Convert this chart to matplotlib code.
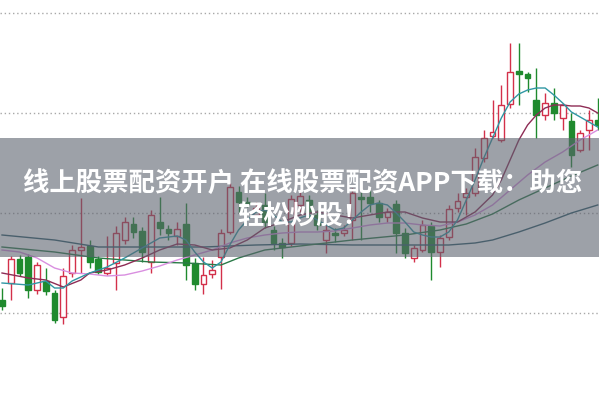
import matplotlib
matplotlib.use("Agg")
import matplotlib.pyplot as plt
from matplotlib.patches import Rectangle
import numpy as np

# ---- data (arbitrary price units) ----
opens = [1.13,1.30,1.54,1.56,1.23,1.32,1.20,0.96,1.40,1.63,1.67,1.54,1.40,1.50,1.73,1.89,1.82,1.51,1.91,1.84,
         1.77,1.89,1.50,1.29,1.39,1.56,1.81,2.21,2.11,1.98,2.08,1.83,1.70,1.70,2.08,2.13,1.98,1.73,1.80,1.80,
         1.93,2.16,2.16,2.10,1.96,2.09,1.80,1.55,1.63,1.87,1.61,1.76,2.05,2.16,2.20,2.55,2.77,2.73,3.09,3.42,
         3.39,3.13,2.98,3.10,2.95,2.92,2.63,2.83,2.93]
closes = [1.07,1.54,1.40,1.23,1.48,1.22,0.93,1.37,1.63,1.66,1.51,1.41,1.45,1.80,1.91,1.81,1.61,1.98,1.85,1.80,
          1.84,1.48,1.29,1.38,1.43,1.80,2.26,2.11,2.09,2.05,1.91,1.70,1.66,2.14,2.17,2.01,1.88,1.83,1.78,1.83,
          2.20,2.14,2.10,1.96,2.01,1.80,1.60,1.65,1.88,1.61,1.75,2.04,2.12,2.20,2.56,2.75,2.81,3.08,3.41,3.39,
          3.35,2.98,3.10,3.00,3.08,2.58,2.80,2.93,2.88]
highs = [1.25,1.57,1.58,1.59,1.51,1.45,1.23,1.45,1.68,2.15,1.73,1.57,1.77,1.87,1.96,1.96,1.86,2.03,2.16,1.88,
         1.91,2.10,1.55,1.56,1.53,1.84,2.30,2.27,2.16,2.11,2.20,1.87,1.75,2.18,2.23,2.18,2.03,1.88,1.85,1.88,
         2.25,2.21,2.23,2.13,2.05,2.13,1.85,1.68,1.93,1.91,1.78,2.08,2.20,2.25,2.65,2.83,3.13,3.28,3.70,3.70,
         3.41,3.45,3.20,3.25,3.10,3.00,2.83,3.03,3.15]
lows = [1.03,1.13,1.37,1.15,1.19,1.18,0.90,0.89,1.36,1.40,1.45,1.39,1.38,1.23,1.69,1.75,1.51,1.40,1.78,1.73,
        1.68,1.33,1.23,1.19,1.35,1.24,1.79,2.00,2.06,1.88,1.85,1.63,1.55,1.67,2.01,1.93,1.83,1.60,1.71,1.77,
        1.73,1.73,2.01,1.91,1.91,1.60,1.55,1.51,1.61,1.33,1.46,1.73,2.01,1.98,2.17,2.51,2.75,2.71,3.05,3.08,
        3.21,2.75,2.93,2.93,2.83,2.46,2.61,2.63,2.83]

ma5_idx = [0,3,5,6,7,8,10,12,14,16,18,20,21,22,23,24,25,26,27,28,29,30,31,32,33,34,35,36,37,38,39,40,41,42,
           43,44,45,46,47,48,49,50,51,52,53,54,55,56,57,58,59,60,61,62,63,64,65,66,67,68]
ma5_val = [1.30,1.28,1.32,1.25,1.25,1.32,1.40,1.46,1.55,1.65,1.75,1.77,1.73,1.61,1.51,1.45,1.51,1.68,1.83,1.93,
           2.01,2.03,1.98,1.91,1.91,1.95,1.98,1.93,1.88,1.83,1.85,1.93,2.01,2.08,2.10,2.08,2.00,1.91,1.81,1.78,
           1.76,1.76,1.81,1.93,2.13,2.33,2.55,2.75,2.95,3.11,3.19,3.23,3.25,3.25,3.18,3.10,3.01,2.96,2.91,2.86]

ma10_idx = [0,3,5,7,9,10,12,14,16,18,20,22,24,26,28,30,32,34,36,38,40,42,44,46,48,50,52,54,56,57,58,59,60,
            61,62,63,64,65,66,67,68]
ma10_val = [1.40,1.35,1.33,1.26,1.33,1.40,1.43,1.48,1.55,1.63,1.69,1.68,1.63,1.65,1.73,1.85,1.91,1.98,2.01,
            1.98,1.95,1.98,2.01,2.01,1.95,1.91,1.91,2.01,2.18,2.33,2.53,2.73,2.88,2.98,3.05,3.08,3.08,3.07,
            3.07,3.05,3.00]

ma20_idx = [0,2,4,6,8,10,12,14,16,18,20,22,24,26,28,30,32,34,36,38,40,42,44,46,48,50,52,54,56,58,60,62,64,66,68]
ma20_val = [1.63,1.61,1.55,1.45,1.40,1.39,1.37,1.38,1.42,1.47,1.53,1.58,1.63,1.70,1.75,1.78,1.80,1.81,1.81,
            1.82,1.85,1.88,1.90,1.90,1.88,1.87,1.91,1.98,2.08,2.23,2.38,2.51,2.61,2.73,2.83]

ma30_idx = [0,6,11,17,21,25,27,30,34,40,46,50,53,56,59,62,65,68]
ma30_val = [1.66,1.61,1.55,1.51,1.50,1.48,1.55,1.63,1.67,1.73,1.78,1.83,1.89,1.99,2.13,2.25,2.37,2.48]

ma60_idx = [0,6,11,17,23,29,34,40,46,51,54,56,59,62,65,68]
ma60_val = [1.78,1.73,1.66,1.66,1.66,1.68,1.69,1.68,1.68,1.68,1.70,1.73,1.81,1.90,2.00,2.08]

grid_levels = [1.0, 2.0, 3.0, 4.0]

title_line1 = "线上股票配资开户 在线股票配资APP下载：助您"
title_line2 = "轻松炒股！"

# ---- drawing ----
UP = "#d3304a"
DOWN = "#1f8a2e"

fig = plt.figure(figsize=(5.99, 3.97), dpi=100)
ax = fig.add_axes([0, 0, 1, 1])
ax.set_xlim(-0.23, 68.15)
ax.set_ylim(0.16, 4.13)
ax.axis("off")

for g in grid_levels:
    ax.axhline(g, color="#a8a8a8", lw=1.0, ls=(0, (1, 2)), zorder=1)

w = 0.66
for i, (o, c, h, l) in enumerate(zip(opens, closes, highs, lows)):
    if c >= o:
        col = UP
        ax.vlines(i, l, o, color=col, lw=1.0, zorder=3)
        ax.vlines(i, c, h, color=col, lw=1.0, zorder=3)
        ax.add_patch(Rectangle((i - w / 2, o), w, c - o, facecolor="white", edgecolor=col, lw=1.0, zorder=3))
    else:
        col = DOWN
        ax.vlines(i, l, h, color=col, lw=1.0, zorder=3)
        ax.add_patch(Rectangle((i - w / 2, c), w, o - c, facecolor=col, edgecolor=col, lw=1.0, zorder=3))

ax.plot(ma60_idx, ma60_val, color="#2f5d6b", lw=1.0, zorder=4)
ax.plot(ma30_idx, ma30_val, color="#2b7a48", lw=1.0, zorder=4)
ax.plot(ma20_idx, ma20_val, color="#d98fe0", lw=1.0, zorder=4)
ax.plot(ma10_idx, ma10_val, color="#8e2c55", lw=1.0, zorder=4)
ax.plot(ma5_idx, ma5_val, color="#2f97a3", lw=1.0, zorder=4)

# grey banner
fig.patches.append(Rectangle((0, 1 - 257 / 397), 1, 119 / 397, transform=fig.transFigure,
                             facecolor=(0.36, 0.385, 0.43), alpha=0.6, edgecolor="none", zorder=5))

fp = dict(color="white", fontsize=19, fontweight="bold", ha="center", va="center",
          family=["Noto Sans CJK SC", "DejaVu Sans"], zorder=6)
fig.text(0.506, 1 - 183 / 397, title_line1, **fp)
fig.text(0.506, 1 - 217 / 397, title_line2, **fp)

fig.savefig("out.png", dpi=100)
